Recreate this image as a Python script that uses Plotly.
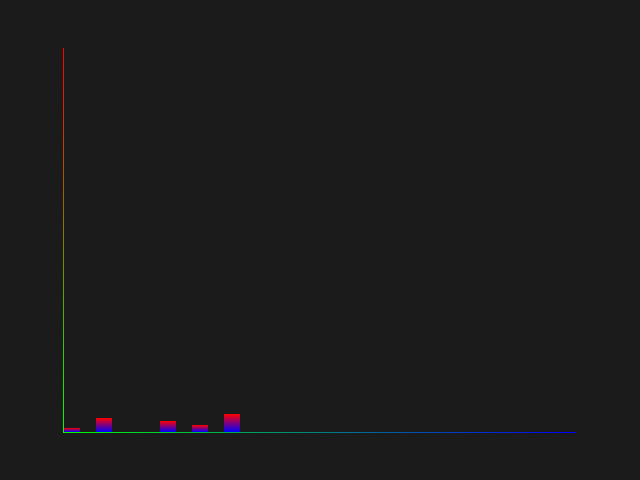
import plotly.graph_objects as go

# Data
categories = list(range(16))
values = [4, 14, 0, 11, 7, 18, 0, 0, 0, 0, 0, 0, 0, 0, 0, 0]
y_max = 384
bar_width = 0.5

BG = "#1b1b1b"
PX_X = 16 / 512  # one pixel in x data units
PX_Y = 1         # one pixel in y data units

fig = go.Figure()

# Bars as gradient-filled rectangles (red top -> blue bottom)
for c, v in zip(categories, values):
    if v <= 0:
        continue
    fig.add_trace(go.Scatter(
        x=[c, c + bar_width, c + bar_width, c, c],
        y=[0, 0, v, v, 0],
        mode="lines", fill="toself", line=dict(width=0),
        fillgradient=dict(type="vertical",
                          colorscale=[[0, "#0000ff"], [1, "#ff0000"]]),
        hoverinfo="skip", showlegend=False,
    ))

n = len(categories)
# Y axis line: gradient red (top) -> green (bottom)
fig.add_trace(go.Scatter(
    x=[-PX_X, 0, 0, -PX_X, -PX_X],
    y=[-PX_Y, -PX_Y, y_max, y_max, -PX_Y],
    mode="lines", fill="toself", line=dict(width=0),
    fillgradient=dict(type="vertical",
                      colorscale=[[0, "#00ff00"], [1, "#ff0000"]]),
    hoverinfo="skip", showlegend=False,
))
# X axis line: gradient green (left) -> blue (right)
fig.add_trace(go.Scatter(
    x=[-PX_X, n, n, -PX_X, -PX_X],
    y=[-PX_Y, -PX_Y, 0, 0, -PX_Y],
    mode="lines", fill="toself", line=dict(width=0),
    fillgradient=dict(type="horizontal",
                      colorscale=[[0, "#00ff00"], [1, "#0000ff"]]),
    hoverinfo="skip", showlegend=False,
))

fig.update_layout(
    width=640, height=480,
    margin=dict(l=63, r=64, t=48, b=47, pad=0),
    paper_bgcolor=BG, plot_bgcolor=BG,
    xaxis=dict(range=[-PX_X, n], showgrid=False, zeroline=False,
               showticklabels=False, showline=False, ticks=""),
    yaxis=dict(range=[-PX_Y, y_max], showgrid=False, zeroline=False,
               showticklabels=False, showline=False, ticks=""),
    showlegend=False,
)

fig.write_html("out.html")
